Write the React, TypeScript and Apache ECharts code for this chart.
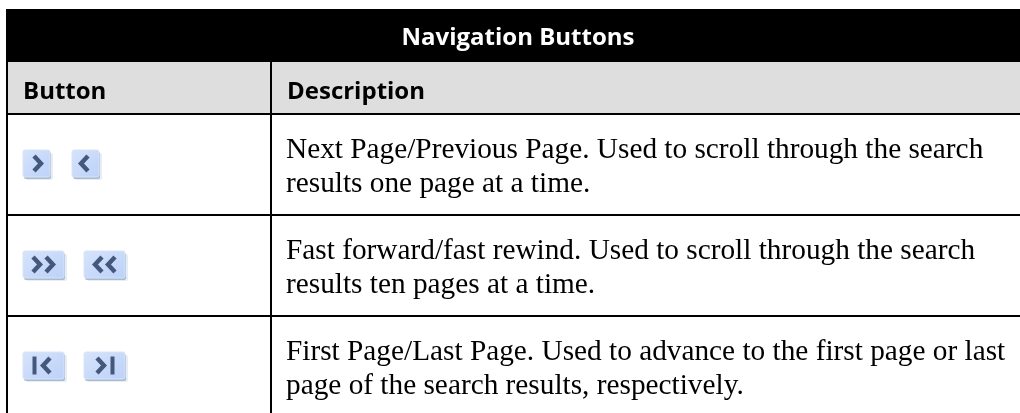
import React, { useEffect, useRef } from "react";
import * as echarts from "echarts";

const title = "Navigation Buttons";
const headers = ["Button", "Description"];
const descriptions = [
  ["Next Page/Previous Page. Used to scroll through the search", "results one page at a time."],
  ["Fast forward/fast rewind. Used to scroll through the search", "results ten pages at a time."],
  ["First Page/Last Page. Used to advance to the first page or last", "page of the search results, respectively."],
];
const rowLines = [215, 316];
const textMiddles = [148, 249, 350];
const iconTops = [150, 251, 352];
const iconRows = [
  { kinds: ["right", "left"], xs: [23, 72], w: 30 },
  { kinds: ["right2", "left2"], xs: [23, 84], w: 44 },
  { kinds: ["first", "last"], xs: [23, 84], w: 44 },
];
const ink = "#44587e";

function chevron(cx: number, cy: number, dir: number) {
  const w = 7, h = 7.5;
  return {
    type: "polyline",
    shape: { points: [[cx - (dir * w) / 2, cy - h], [cx + (dir * w) / 2, cy], [cx - (dir * w) / 2, cy + h]] },
    style: { stroke: ink, lineWidth: 4.4, fill: "none" },
  };
}

function bar(x: number, cy: number) {
  return { type: "rect", shape: { x: x - 2, y: cy - 9, width: 4, height: 18 }, style: { fill: ink } };
}

function button(x: number, y: number, w: number, kind: string) {
  const h = 27;
  const cx = x + (w - 3) / 2, cy = y + 13.5;
  const els: any[] = [
    { type: "rect", shape: { x: x + 3, y: y + 3, width: w - 3, height: h, r: 2 }, style: { fill: "#e6edf6" } },
    { type: "rect", shape: { x: x + 1, y: y + 2, width: w - 3, height: h, r: 2 }, style: { fill: "#a9bbd0" } },
    { type: "rect", shape: { x, y, width: w - 3, height: h, r: 2 }, style: {
      fill: new echarts.graphic.LinearGradient(0, 0, 1, 1, [{ offset: 0, color: "#d6e3fb" }, { offset: 1, color: "#bcd2f9" }]),
      stroke: "#d9e4f5", lineWidth: 1 } },
  ];
  if (kind === "right") els.push(chevron(cx + 1, cy, 1));
  if (kind === "left") els.push(chevron(cx - 1, cy, -1));
  if (kind === "right2") els.push(chevron(cx - 7, cy, 1), chevron(cx + 6, cy, 1));
  if (kind === "left2") els.push(chevron(cx - 6, cy, -1), chevron(cx + 7, cy, -1));
  if (kind === "first") els.push(bar(cx - 9, cy), chevron(cx + 3, cy, -1));
  if (kind === "last") els.push(chevron(cx - 4, cy, 1), bar(cx + 8, cy));
  return els;
}

export default function App() {
  const ref = useRef<HTMLDivElement>(null);
  useEffect(() => {
    const chart = echarts.init(ref.current!, null, { renderer: "svg" });
    const sans = "'Open Sans', 'Noto Sans', sans-serif";
    const serif = "'Liberation Serif', serif";
    const hl = (y: number) => ({ type: "rect", shape: { x: 6, y: y - 1, width: 1014, height: 2 }, style: { fill: "#000" } });
    const elements: any[] = [
      { type: "rect", shape: { x: 6, y: 9, width: 1014, height: 53 }, style: { fill: "#000" } },
      { type: "rect", shape: { x: 6, y: 62, width: 1014, height: 51 }, style: { fill: "#dedede" } },
      hl(114), ...rowLines.map(hl),
      { type: "rect", shape: { x: 6, y: 9, width: 2, height: 404 }, style: { fill: "#000" } },
      { type: "rect", shape: { x: 270, y: 62, width: 2, height: 351 }, style: { fill: "#000" } },
      { type: "text", x: 518, y: 35, style: { text: title, fill: "#fff", font: `bold 24px ${sans}`, align: "center", verticalAlign: "middle" } },
      { type: "text", x: 23, y: 89, style: { text: headers[0], fill: "#000", font: `bold 24px ${sans}`, verticalAlign: "middle" } },
      { type: "text", x: 287, y: 89, style: { text: headers[1], fill: "#000", font: `bold 24px ${sans}`, verticalAlign: "middle" } },
    ];
    descriptions.forEach((lines, i) => {
      lines.forEach((line, j) => {
        elements.push({ type: "text", x: 286, y: textMiddles[i] + j * 34, style: { text: line, fill: "#000", font: `29.3px ${serif}`, verticalAlign: "middle" } });
      });
      const r = iconRows[i];
      r.kinds.forEach((k, n) => elements.push(...button(r.xs[n], iconTops[i], r.w, k)));
    });
    chart.setOption({ animation: false, graphic: { elements } });
    return () => chart.dispose();
  }, []);
  return <div ref={ref} style={{ position: "fixed", left: 0, top: 0, width: 1020, height: 413 }} />;
}
